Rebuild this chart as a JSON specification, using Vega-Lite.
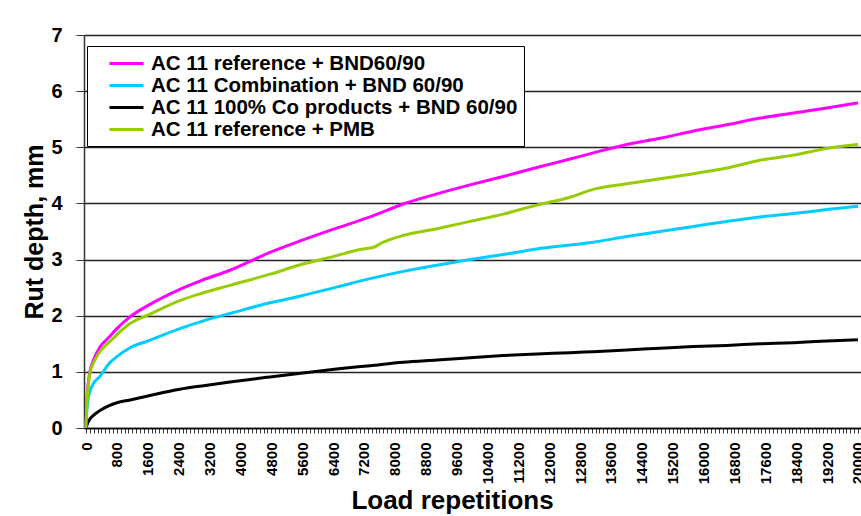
{
  "$schema": "https://vega.github.io/schema/vega-lite/v6.json",
  "width": 777,
  "height": 393,
  "autosize": {"type": "none"},
  "padding": {"left": 84, "top": 35, "right": 0, "bottom": 88},
  "background": "white",
  "config": {
    "font": "Liberation Sans",
    "view": {"stroke": null}
  },
  "datasets": {
    "curves": [
      {"s": "AC 11  reference + BND60/90", "n": 0, "d": 0},
      {"s": "AC 11  reference + BND60/90", "n": 20, "d": 0.45},
      {"s": "AC 11  reference + BND60/90", "n": 50, "d": 0.75},
      {"s": "AC 11  reference + BND60/90", "n": 100, "d": 1.0},
      {"s": "AC 11  reference + BND60/90", "n": 200, "d": 1.22},
      {"s": "AC 11  reference + BND60/90", "n": 360, "d": 1.44},
      {"s": "AC 11  reference + BND60/90", "n": 600, "d": 1.62},
      {"s": "AC 11  reference + BND60/90", "n": 800, "d": 1.77},
      {"s": "AC 11  reference + BND60/90", "n": 1140, "d": 1.98},
      {"s": "AC 11  reference + BND60/90", "n": 1600, "d": 2.18},
      {"s": "AC 11  reference + BND60/90", "n": 2430, "d": 2.47},
      {"s": "AC 11  reference + BND60/90", "n": 3000, "d": 2.63},
      {"s": "AC 11  reference + BND60/90", "n": 3730, "d": 2.81},
      {"s": "AC 11  reference + BND60/90", "n": 4770, "d": 3.13},
      {"s": "AC 11  reference + BND60/90", "n": 5620, "d": 3.35},
      {"s": "AC 11  reference + BND60/90", "n": 6490, "d": 3.56},
      {"s": "AC 11  reference + BND60/90", "n": 7360, "d": 3.76},
      {"s": "AC 11  reference + BND60/90", "n": 8220, "d": 3.99},
      {"s": "AC 11  reference + BND60/90", "n": 9090, "d": 4.17},
      {"s": "AC 11  reference + BND60/90", "n": 9950, "d": 4.33},
      {"s": "AC 11  reference + BND60/90", "n": 10810, "d": 4.48},
      {"s": "AC 11  reference + BND60/90", "n": 11680, "d": 4.64},
      {"s": "AC 11  reference + BND60/90", "n": 12540, "d": 4.79},
      {"s": "AC 11  reference + BND60/90", "n": 13140, "d": 4.9},
      {"s": "AC 11  reference + BND60/90", "n": 14010, "d": 5.05},
      {"s": "AC 11  reference + BND60/90", "n": 14870, "d": 5.16},
      {"s": "AC 11  reference + BND60/90", "n": 15740, "d": 5.29},
      {"s": "AC 11  reference + BND60/90", "n": 16600, "d": 5.4},
      {"s": "AC 11  reference + BND60/90", "n": 17460, "d": 5.52},
      {"s": "AC 11  reference + BND60/90", "n": 18330, "d": 5.61},
      {"s": "AC 11  reference + BND60/90", "n": 19190, "d": 5.7},
      {"s": "AC 11  reference + BND60/90", "n": 20000, "d": 5.79},

      {"s": "AC 11 Combination + BND 60/90", "n": 0, "d": 0},
      {"s": "AC 11 Combination + BND 60/90", "n": 20, "d": 0.3},
      {"s": "AC 11 Combination + BND 60/90", "n": 50, "d": 0.5},
      {"s": "AC 11 Combination + BND 60/90", "n": 100, "d": 0.65},
      {"s": "AC 11 Combination + BND 60/90", "n": 200, "d": 0.8},
      {"s": "AC 11 Combination + BND 60/90", "n": 360, "d": 0.92},
      {"s": "AC 11 Combination + BND 60/90", "n": 600, "d": 1.15},
      {"s": "AC 11 Combination + BND 60/90", "n": 800, "d": 1.27},
      {"s": "AC 11 Combination + BND 60/90", "n": 1140, "d": 1.43},
      {"s": "AC 11 Combination + BND 60/90", "n": 1600, "d": 1.55},
      {"s": "AC 11 Combination + BND 60/90", "n": 2430, "d": 1.77},
      {"s": "AC 11 Combination + BND 60/90", "n": 3000, "d": 1.9},
      {"s": "AC 11 Combination + BND 60/90", "n": 3730, "d": 2.04},
      {"s": "AC 11 Combination + BND 60/90", "n": 4770, "d": 2.23},
      {"s": "AC 11 Combination + BND 60/90", "n": 5620, "d": 2.36},
      {"s": "AC 11 Combination + BND 60/90", "n": 6490, "d": 2.51},
      {"s": "AC 11 Combination + BND 60/90", "n": 7360, "d": 2.66},
      {"s": "AC 11 Combination + BND 60/90", "n": 8220, "d": 2.79},
      {"s": "AC 11 Combination + BND 60/90", "n": 9090, "d": 2.9},
      {"s": "AC 11 Combination + BND 60/90", "n": 9950, "d": 3.0},
      {"s": "AC 11 Combination + BND 60/90", "n": 10810, "d": 3.09},
      {"s": "AC 11 Combination + BND 60/90", "n": 11680, "d": 3.19},
      {"s": "AC 11 Combination + BND 60/90", "n": 12540, "d": 3.26},
      {"s": "AC 11 Combination + BND 60/90", "n": 13140, "d": 3.31},
      {"s": "AC 11 Combination + BND 60/90", "n": 14010, "d": 3.41},
      {"s": "AC 11 Combination + BND 60/90", "n": 14870, "d": 3.5},
      {"s": "AC 11 Combination + BND 60/90", "n": 15740, "d": 3.59},
      {"s": "AC 11 Combination + BND 60/90", "n": 16600, "d": 3.68},
      {"s": "AC 11 Combination + BND 60/90", "n": 17460, "d": 3.76},
      {"s": "AC 11 Combination + BND 60/90", "n": 18330, "d": 3.82},
      {"s": "AC 11 Combination + BND 60/90", "n": 19190, "d": 3.89},
      {"s": "AC 11 Combination + BND 60/90", "n": 20000, "d": 3.95},

      {"s": "AC 11 100% Co products + BND 60/90", "n": 0, "d": 0},
      {"s": "AC 11 100% Co products + BND 60/90", "n": 50, "d": 0.1},
      {"s": "AC 11 100% Co products + BND 60/90", "n": 100, "d": 0.16},
      {"s": "AC 11 100% Co products + BND 60/90", "n": 200, "d": 0.23},
      {"s": "AC 11 100% Co products + BND 60/90", "n": 360, "d": 0.31},
      {"s": "AC 11 100% Co products + BND 60/90", "n": 600, "d": 0.4},
      {"s": "AC 11 100% Co products + BND 60/90", "n": 800, "d": 0.45},
      {"s": "AC 11 100% Co products + BND 60/90", "n": 1140, "d": 0.5},
      {"s": "AC 11 100% Co products + BND 60/90", "n": 1600, "d": 0.57},
      {"s": "AC 11 100% Co products + BND 60/90", "n": 2430, "d": 0.69},
      {"s": "AC 11 100% Co products + BND 60/90", "n": 3000, "d": 0.75},
      {"s": "AC 11 100% Co products + BND 60/90", "n": 3730, "d": 0.82},
      {"s": "AC 11 100% Co products + BND 60/90", "n": 4770, "d": 0.91},
      {"s": "AC 11 100% Co products + BND 60/90", "n": 5620, "d": 0.98},
      {"s": "AC 11 100% Co products + BND 60/90", "n": 6490, "d": 1.05},
      {"s": "AC 11 100% Co products + BND 60/90", "n": 7360, "d": 1.11},
      {"s": "AC 11 100% Co products + BND 60/90", "n": 8220, "d": 1.17},
      {"s": "AC 11 100% Co products + BND 60/90", "n": 9090, "d": 1.21},
      {"s": "AC 11 100% Co products + BND 60/90", "n": 9950, "d": 1.25},
      {"s": "AC 11 100% Co products + BND 60/90", "n": 10810, "d": 1.29},
      {"s": "AC 11 100% Co products + BND 60/90", "n": 11680, "d": 1.32},
      {"s": "AC 11 100% Co products + BND 60/90", "n": 12540, "d": 1.34},
      {"s": "AC 11 100% Co products + BND 60/90", "n": 13140, "d": 1.36},
      {"s": "AC 11 100% Co products + BND 60/90", "n": 14010, "d": 1.39},
      {"s": "AC 11 100% Co products + BND 60/90", "n": 14870, "d": 1.42},
      {"s": "AC 11 100% Co products + BND 60/90", "n": 15740, "d": 1.45},
      {"s": "AC 11 100% Co products + BND 60/90", "n": 16600, "d": 1.47},
      {"s": "AC 11 100% Co products + BND 60/90", "n": 17460, "d": 1.5},
      {"s": "AC 11 100% Co products + BND 60/90", "n": 18330, "d": 1.52},
      {"s": "AC 11 100% Co products + BND 60/90", "n": 19190, "d": 1.55},
      {"s": "AC 11 100% Co products + BND 60/90", "n": 20000, "d": 1.57},

      {"s": "AC 11 reference + PMB", "n": 0, "d": 0},
      {"s": "AC 11 reference + PMB", "n": 20, "d": 0.4},
      {"s": "AC 11 reference + PMB", "n": 50, "d": 0.7},
      {"s": "AC 11 reference + PMB", "n": 100, "d": 0.97},
      {"s": "AC 11 reference + PMB", "n": 200, "d": 1.17},
      {"s": "AC 11 reference + PMB", "n": 360, "d": 1.36},
      {"s": "AC 11 reference + PMB", "n": 600, "d": 1.53},
      {"s": "AC 11 reference + PMB", "n": 800, "d": 1.66},
      {"s": "AC 11 reference + PMB", "n": 1140, "d": 1.86},
      {"s": "AC 11 reference + PMB", "n": 1600, "d": 2.01},
      {"s": "AC 11 reference + PMB", "n": 2430, "d": 2.27},
      {"s": "AC 11 reference + PMB", "n": 3000, "d": 2.4},
      {"s": "AC 11 reference + PMB", "n": 3730, "d": 2.54},
      {"s": "AC 11 reference + PMB", "n": 4770, "d": 2.74},
      {"s": "AC 11 reference + PMB", "n": 5620, "d": 2.92},
      {"s": "AC 11 reference + PMB", "n": 6490, "d": 3.07},
      {"s": "AC 11 reference + PMB", "n": 7100, "d": 3.18},
      {"s": "AC 11 reference + PMB", "n": 7450, "d": 3.22},
      {"s": "AC 11 reference + PMB", "n": 7700, "d": 3.31},
      {"s": "AC 11 reference + PMB", "n": 8220, "d": 3.43},
      {"s": "AC 11 reference + PMB", "n": 9090, "d": 3.55},
      {"s": "AC 11 reference + PMB", "n": 9950, "d": 3.68},
      {"s": "AC 11 reference + PMB", "n": 10810, "d": 3.81},
      {"s": "AC 11 reference + PMB", "n": 11680, "d": 3.97},
      {"s": "AC 11 reference + PMB", "n": 12540, "d": 4.11},
      {"s": "AC 11 reference + PMB", "n": 13140, "d": 4.25},
      {"s": "AC 11 reference + PMB", "n": 14010, "d": 4.35},
      {"s": "AC 11 reference + PMB", "n": 14870, "d": 4.44},
      {"s": "AC 11 reference + PMB", "n": 15740, "d": 4.53},
      {"s": "AC 11 reference + PMB", "n": 16600, "d": 4.63},
      {"s": "AC 11 reference + PMB", "n": 17460, "d": 4.77},
      {"s": "AC 11 reference + PMB", "n": 18330, "d": 4.86},
      {"s": "AC 11 reference + PMB", "n": 19190, "d": 4.98},
      {"s": "AC 11 reference + PMB", "n": 20000, "d": 5.05}
    ]
  },
  "data": {"name": "curves"},
  "mark": {"type": "line", "strokeWidth": 3, "clip": true, "interpolate": "monotone"},
  "encoding": {
    "x": {
      "field": "n",
      "type": "quantitative",
      "scale": {"domain": [-52, 20078], "nice": false, "zero": false},
      "axis": {
        "title": "Load repetitions",
        "titleFontSize": 26,
        "titleFontWeight": "bold",
        "titleColor": "black",
        "titlePadding": 4,
        "titleX": 368,
        "tickCount": 200,
        "format": "d",
        "labelExpr": "datum.value % 800 === 0 ? datum.label : ''",
        "labelAngle": -90,
        "labelFontSize": 15,
        "labelFontWeight": "bold",
        "labelColor": "black",
        "labelOverlap": false,
        "labelBound": false,
        "labelFlush": false,
        "labelPadding": 9,
        "tickSize": 5,
        "tickColor": "#333333",
        "domainColor": "black",
        "domainWidth": 1.5,
        "grid": false
      }
    },
    "y": {
      "field": "d",
      "type": "quantitative",
      "scale": {"domain": [0, 7], "nice": false},
      "axis": {
        "title": "Rut depth, mm",
        "titleFontSize": 25,
        "titleFontWeight": "bold",
        "titleColor": "black",
        "titlePadding": 3,
        "values": [0, 1, 2, 3, 4, 5, 6, 7],
        "labelFontSize": 20,
        "labelFontWeight": "bold",
        "labelColor": "black",
        "labelPadding": 14,
        "tickSize": 8,
        "tickColor": "#333333",
        "domainColor": "#333333",
        "domainWidth": 1.5,
        "grid": true,
        "gridColor": "#222222",
        "gridWidth": 1.3
      }
    },
    "color": {
      "field": "s",
      "type": "nominal",
      "scale": {
        "domain": ["AC 11  reference + BND60/90", "AC 11 Combination + BND 60/90", "AC 11 100% Co products + BND 60/90", "AC 11 reference + PMB"],
        "range": ["#FF00FF", "#00CCFF", "#000000", "#99CC00"]
      },
      "legend": {
        "title": null,
        "orient": "none",
        "legendX": 3,
        "legendY": 11,
        "fillColor": "white",
        "strokeColor": "black",
        "padding": 6,
        "rowPadding": -2,
        "symbolType": "M-1.7,0H1.7",
        "symbolSize": 400,
        "symbolStrokeWidth": 3,
        "symbolOffset": 22,
        "labelOffset": 13,
        "labelFontSize": 20.5,
        "labelFontWeight": "bold",
        "labelColor": "black",
        "labelLimit": 700
      }
    }
  }
}
